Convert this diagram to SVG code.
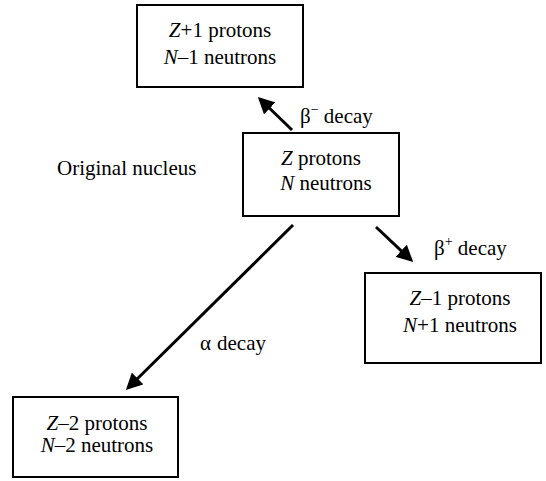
<svg xmlns="http://www.w3.org/2000/svg" width="546" height="481" viewBox="0 0 546 481">
<style>
.box{fill:#fff;stroke:#000;stroke-width:2}
.t{font-family:'Liberation Serif','DejaVu Serif',serif;font-size:21px;fill:#000}
.c{text-anchor:middle}
.conn line{stroke:#000;stroke-width:3}
</style>
<defs>
<marker id="ah" markerWidth="5.5" markerHeight="5.5" refX="4.5" refY="2.75" orient="auto" markerUnits="strokeWidth">
<path d="M0,0 L5.5,2.75 L0,5.5 Z" fill="#000"/>
</marker>
</defs>
<rect width="546" height="481" fill="#fff"/>
<g id="n-top">
<rect class="box" x="137" y="5" width="166" height="82"/>
<text class="t c" x="220" y="37"><tspan font-style="italic">Z</tspan>+1 protons</text>
<text class="t c" x="220" y="64"><tspan font-style="italic">N</tspan>–1 neutrons</text>
</g>
<g id="n-center">
<rect class="box" x="243" y="133" width="156" height="83"/>
<text class="t c" x="321" y="165"><tspan font-style="italic">Z</tspan> protons</text>
<text class="t c" x="326" y="190"><tspan font-style="italic">N</tspan> neutrons</text>
</g>
<g id="n-right">
<rect class="box" x="365" y="273" width="176" height="90"/>
<text class="t c" x="460" y="305"><tspan font-style="italic">Z</tspan>–1 protons</text>
<text class="t c" x="460" y="332"><tspan font-style="italic">N</tspan>+1 neutrons</text>
</g>
<g id="n-bottom">
<rect class="box" x="13" y="397" width="165" height="80"/>
<text class="t c" x="97" y="430"><tspan font-style="italic">Z</tspan>–2 protons</text>
<text class="t c" x="97" y="452"><tspan font-style="italic">N</tspan>–2 neutrons</text>
</g>
<g id="label-original">
<text class="t" x="57" y="175">Original nucleus</text>
</g>
<g class="conn" id="connectors">
<line x1="292" y1="130" x2="260" y2="99" marker-end="url(#ah)"/>
<line x1="376" y1="227" x2="411" y2="260" marker-end="url(#ah)"/>
<line x1="293" y1="225" x2="128" y2="388" marker-end="url(#ah)"/>
</g>
<g id="edge-labels">
<text class="t" x="300" y="123">β<tspan font-size="14" dy="-9">−</tspan><tspan dy="9"> decay</tspan></text>
<text class="t" x="434" y="255">β<tspan font-size="14" dy="-9">+</tspan><tspan dy="9"> decay</tspan></text>
<text class="t" x="200" y="350">α</text>
<text class="t" x="217" y="350">decay</text>
</g>
</svg>
